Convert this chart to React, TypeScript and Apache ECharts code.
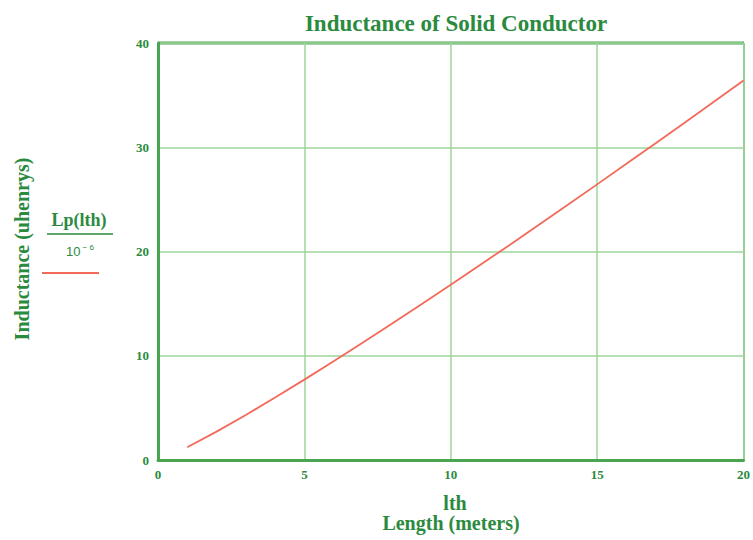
import React, { useEffect, useRef } from "react";
import * as echarts from "echarts";

const lengths = [1, 2, 3, 4, 5, 6, 7, 8, 9, 10, 11, 12, 13, 14, 15, 16, 17, 18, 19, 20];
const inductance = [1.22, 2.72, 4.32, 5.99, 7.71, 9.48, 11.27, 13.09, 14.94, 16.81, 18.7, 20.61, 22.54, 24.48, 26.44, 28.41, 30.39, 32.38, 34.38, 36.4];
const xTicks = [0, 5, 10, 15, 20];
const yTicks = [0, 10, 20, 30, 40];

const GREEN = "#2b8a3e";
const FONT = "Liberation Serif";

export default function App() {
  const ref = useRef<HTMLDivElement>(null);
  useEffect(() => {
    if (!ref.current) return;
    const chart = echarts.init(ref.current, null, { renderer: "svg" });
    chart.setOption({
      animation: false,
      backgroundColor: "#ffffff",
      title: {
        text: "Inductance of Solid Conductor",
        left: 451,
        top: 7,
        textAlign: "center",
        textStyle: { color: GREEN, fontFamily: FONT, fontWeight: "bold", fontSize: 23 },
      },
      grid: { left: 158, right: 9, top: 43, bottom: 80 },
      xAxis: {
        type: "value",
        min: xTicks[0],
        max: xTicks[xTicks.length - 1],
        interval: 5,
        axisLine: { show: true, onZero: false, lineStyle: { color: "#4aa552", width: 3 } },
        axisTick: { show: false },
        splitLine: { show: true, lineStyle: { color: "#9ed69a", width: 1.5 } },
        axisLabel: { color: GREEN, fontFamily: FONT, fontWeight: "bold", fontSize: 13, margin: 8 },
      },
      yAxis: {
        type: "value",
        min: yTicks[0],
        max: yTicks[yTicks.length - 1],
        interval: 10,
        axisLine: { show: true, onZero: false, lineStyle: { color: "#4aa552", width: 3 } },
        axisTick: { show: false },
        splitLine: { show: true, lineStyle: { color: "#9ed69a", width: 1.5 } },
        axisLabel: { color: GREEN, fontFamily: FONT, fontWeight: "bold", fontSize: 13, margin: 9 },
      },
      series: [
        {
          type: "line",
          data: lengths.map((l, i) => [l, inductance[i]]),
          showSymbol: false,
          lineStyle: { color: "#f26a5a", width: 1.8 },
          z: 5,
        },
      ],
      graphic: [
        { type: "line", shape: { x1: 158, y1: 43, x2: 744, y2: 43 }, style: { stroke: "#4aa552", lineWidth: 3 } },
        { type: "line", shape: { x1: 744, y1: 43, x2: 744, y2: 460 }, style: { stroke: "#7cc47c", lineWidth: 2 } },
        {
          type: "text",
          x: 22,
          y: 249,
          rotation: Math.PI / 2,
          style: {
            text: "Inductance (uhenrys)",
            fill: GREEN,
            font: `bold 20px "${FONT}"`,
            align: "center",
            verticalAlign: "middle",
          },
        },
        {
          type: "text",
          x: 79,
          y: 220,
          style: { text: "Lp(lth)", fill: GREEN, font: `bold 18px "${FONT}"`, align: "center", verticalAlign: "middle" },
        },
        { type: "line", shape: { x1: 47, y1: 234, x2: 113, y2: 234 }, style: { stroke: GREEN, lineWidth: 1.5 } },
        {
          type: "text",
          x: 80,
          y: 251,
          style: {
            text: "{b|10}{s|− 6}",
            align: "center",
            verticalAlign: "middle",
            rich: {
              b: { fill: GREEN, fontFamily: "Liberation Sans", fontSize: 13 },
              s: { fill: GREEN, fontFamily: "Liberation Sans", fontSize: 8, verticalAlign: "top", padding: [0, 0, 7, 2] },
            },
          },
        },
        { type: "line", shape: { x1: 42, y1: 273, x2: 99, y2: 273 }, style: { stroke: "#f26a5a", lineWidth: 2 } },
        {
          type: "text",
          x: 455,
          y: 503,
          style: { text: "lth", fill: GREEN, font: `bold 20px "${FONT}"`, align: "center", verticalAlign: "middle" },
        },
        {
          type: "text",
          x: 451,
          y: 523,
          style: { text: "Length (meters)", fill: GREEN, font: `bold 20px "${FONT}"`, align: "center", verticalAlign: "middle" },
        },
      ],
    });
    return () => chart.dispose();
  }, []);
  return <div ref={ref} style={{ width: 753, height: 540, position: "absolute", left: 0, top: 0 }} />;
}
